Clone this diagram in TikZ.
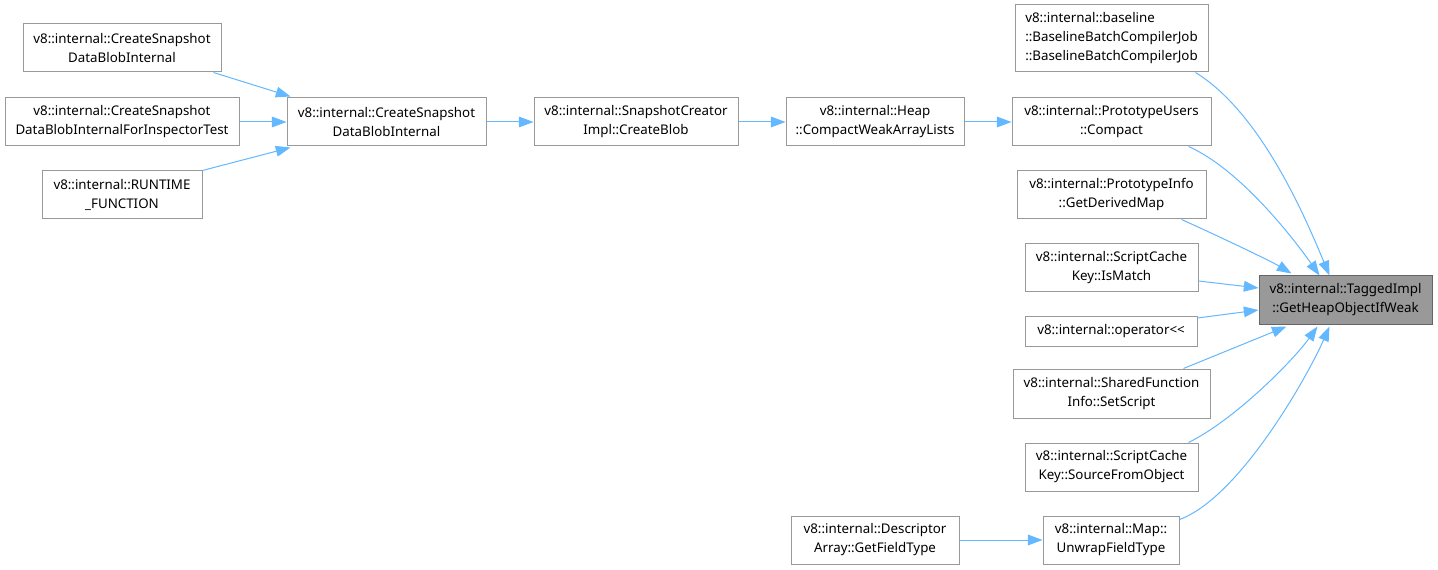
\documentclass[tikz,border=0pt]{standalone}
\usepackage{fontspec}
\setmainfont{Noto Sans}
\usetikzlibrary{arrows.meta,calc}
\definecolor{boxgray}{HTML}{999999}
\definecolor{edgeblue}{HTML}{63B8FF}
\definecolor{tgtfill}{HTML}{999999}
\definecolor{tgtline}{HTML}{666666}
\begin{document}
\begin{tikzpicture}[x=0.75pt,y=-0.75pt,
  box/.style={draw=boxgray, line width=0.75pt, fill=white, align=center, inner sep=0pt,
    font=\fontsize{10pt}{14.25pt}\selectfont},
  sz/.style 2 args={minimum width=#1*0.75pt, minimum height=#2*0.75pt},
  tgt/.style={box, draw=tgtline, fill=tgtfill},
  edge/.style={draw=edgeblue, line width=0.75pt, -{Triangle[length=11pt,width=8pt]}}
]
\useasboundingbox[fill=white] (0,0) rectangle (1438,570);

\node[box, sz={198}{48}] (a1) at (122,48) {v8::internal::CreateSnapshot\\DataBlobInternal};
\node[box, sz={234}{48}] (a2) at (122,122) {v8::internal::CreateSnapshot\\DataBlobInternalForInspectorTest};
\node[box, sz={160}{48}] (a3) at (122,195) {v8::internal::RUNTIME\\\_FUNCTION};
\node[box, sz={199}{48}] (b) at (386.5,122) {v8::internal::CreateSnapshot\\DataBlobInternal};
\node[box, sz={204}{48}] (c) at (636,122) {v8::internal::SnapshotCreator\\Impl::CreateBlob};
\node[box, sz={178}{48}] (d) at (875,122) {v8::internal::Heap\\::CompactWeakArrayLists};
\node[box, sz={199}{48}] (e) at (1111.5,122) {v8::internal::PrototypeUsers\\::Compact};
\node[box, sz={193}{67}, align=left] (f) at (1111.5,38.5) {v8::internal::baseline\\::BaselineBatchCompilerJob\\::BaselineBatchCompilerJob};
\node[box, sz={189}{48}] (g) at (1111.5,195) {v8::internal::PrototypeInfo\\::GetDerivedMap};
\node[box, sz={173}{48}] (h) at (1111.5,268) {v8::internal::ScriptCache\\Key::IsMatch};
\node[box, sz={172}{30}] (i) at (1111,331) {v8::internal::operator<{}<};
\node[box, sz={197}{49}] (j) at (1111.5,393.5) {v8::internal::SharedFunction\\Info::SetScript};
\node[box, sz={173}{48}] (k) at (1111.5,467) {v8::internal::ScriptCache\\Key::SourceFromObject};
\node[box, sz={136}{48}] (l) at (1111,540) {v8::internal::Map::\\UnwrapFieldType};
\node[box, sz={168}{48}] (m) at (875,540) {v8::internal::Descriptor\\Array::GetFieldType};
\node[tgt, sz={173}{48}] (t) at (1345.5,300) {v8::internal::TaggedImpl\\::GetHeapObjectIfWeak};

% left cluster
\draw[edge] ($(a1.south east)+(-8,0)$) -- ($(b.north west)+(4,-1)$);
\draw[edge] (a2.east) -- (b.west);
\draw[edge] (a3.north east) -- ($(b.south west)+(4,1)$);
\draw[edge] (b.east) -- (c.west);
\draw[edge] (c.east) -- (d.west);
\draw[edge] (d.east) -- (e.west);

% into target
\draw[edge] ($(f.south east)+(-13,0)$) .. controls +(65,40) and +(-25,-60) .. ($(t.north west)+(71,0)$);
\draw[edge] ($(e.south east)+(-23,0)$) .. controls +(50,22) and +(-28,-40) .. ($(t.north west)+(61,0)$);
\draw[edge] ($(g.south east)+(-25,0)$) .. controls +(40,18) and +(-20,-12) .. ($(t.north west)+(33,-2)$);
\draw[edge] ($(h.east)+(0,13)$) -- ($(t.west)+(0,-12)$);
\draw[edge] ($(i.east)+(0,-13)$) -- ($(t.west)+(0,10)$);
\draw[edge] ($(j.north east)+(-27,0)$) -- ($(t.south west)+(28,2)$);
\draw[edge] ($(k.north east)+(-10,0)$) .. controls +(45,-22) and +(-25,35) .. ($(t.south west)+(59,2)$);
\draw[edge] ($(l.north east)+(0,4)$) .. controls +(60,-22) and +(-22,50) .. ($(t.south west)+(71,2)$);
\draw[edge] (m.east) -- (l.west);
\end{tikzpicture}
\end{document}
